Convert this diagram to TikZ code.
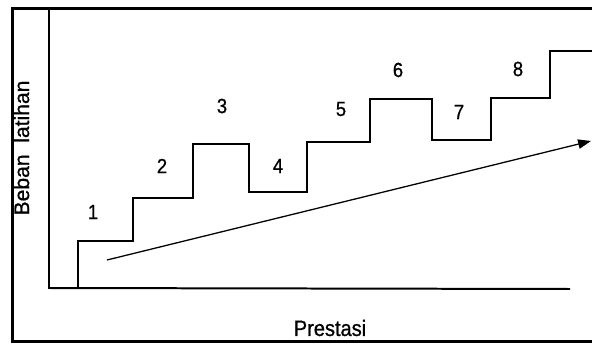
\documentclass[tikz,border=0pt]{standalone}
\usepackage{fontspec}
\setmainfont{Liberation Sans}
\newfontfamily\narrowsf[FakeStretch=0.9,FakeBold=0.8]{Liberation Sans}
\newfontfamily\labelsf[FakeBold=0.8]{Liberation Sans}
\usetikzlibrary{arrows.meta,positioning,calc}
\tikzset{
    frame/.style={
        draw=black,
        line width=2.6pt,
    },
    axis/.style={
        draw=black,
        line width=1.7pt,
    },
    stair/.style={
        draw=black,
        line width=0.9pt,
    },
    trend/.style={
        draw,
        -{Triangle[length=11pt,width=8pt]},
        line width=1.1pt,
    },
    stage/.style={
        font=\narrowsf\fontsize{17.5}{17.5}\selectfont,
        inner sep=0pt,
    },
    axislabel/.style={
        font=\narrowsf\fontsize{19}{19}\selectfont,
        inner sep=0pt,
    },
    sidelabel/.style={
        font=\labelsf\fontsize{18}{18}\selectfont,
        inner sep=0pt,
    },
}

\begin{document}
\begin{tikzpicture}[x=0.03cm,y=-0.03cm]
                        \useasboundingbox (0,0) rectangle (592,345);
                        \draw[frame] (592,8.5) -- (12.5,8.5) -- (12.5,341.5) -- (592,341.5);
                        \coordinate (O) at (49,288);
                        \coordinate (Ytop) at (49,10);
                        \coordinate (Xend) at (570,289);
                        \draw[axis] (Ytop) -- (O) -- (Xend);
                        \draw[stair] (78,288) -- (78,241) -- (133,241) -- (133,198) -- (193,198) -- (193,144)
                            -- (249,144) -- (249,192) -- (307,192) -- (307,142) -- (370,142) -- (370,99)
                            -- (432,99) -- (432,140) -- (491,140) -- (491,98) -- (550,98) -- (550,51) -- (592,51);
                        \node [stage] (S1) at (93,212) {1};
                        \node [stage] (S2) at (162,166) {2};
                        \node [stage] (S3) at (222,106) {3};
                        \node [stage] (S4) at (278,166) {4};
                        \node [stage] (S5) at (341,109) {5};
                        \node [stage] (S6) at (398,70) {6};
                        \node [stage] (S7) at (459,112) {7};
                        \node [stage] (S8) at (518,69) {8};
                        \coordinate (A0) at (107,260);
                        \coordinate (A1) at (591,141);
                        \draw[trend] (A0) -- (A1);
                        \node [sidelabel, rotate=90] (Ylab) at (21.5,148) {Beban\ \ latihan};
                        \node [axislabel] (Xlab) at (330,328) {Prestasi};
                    \end{tikzpicture}
\end{document}
